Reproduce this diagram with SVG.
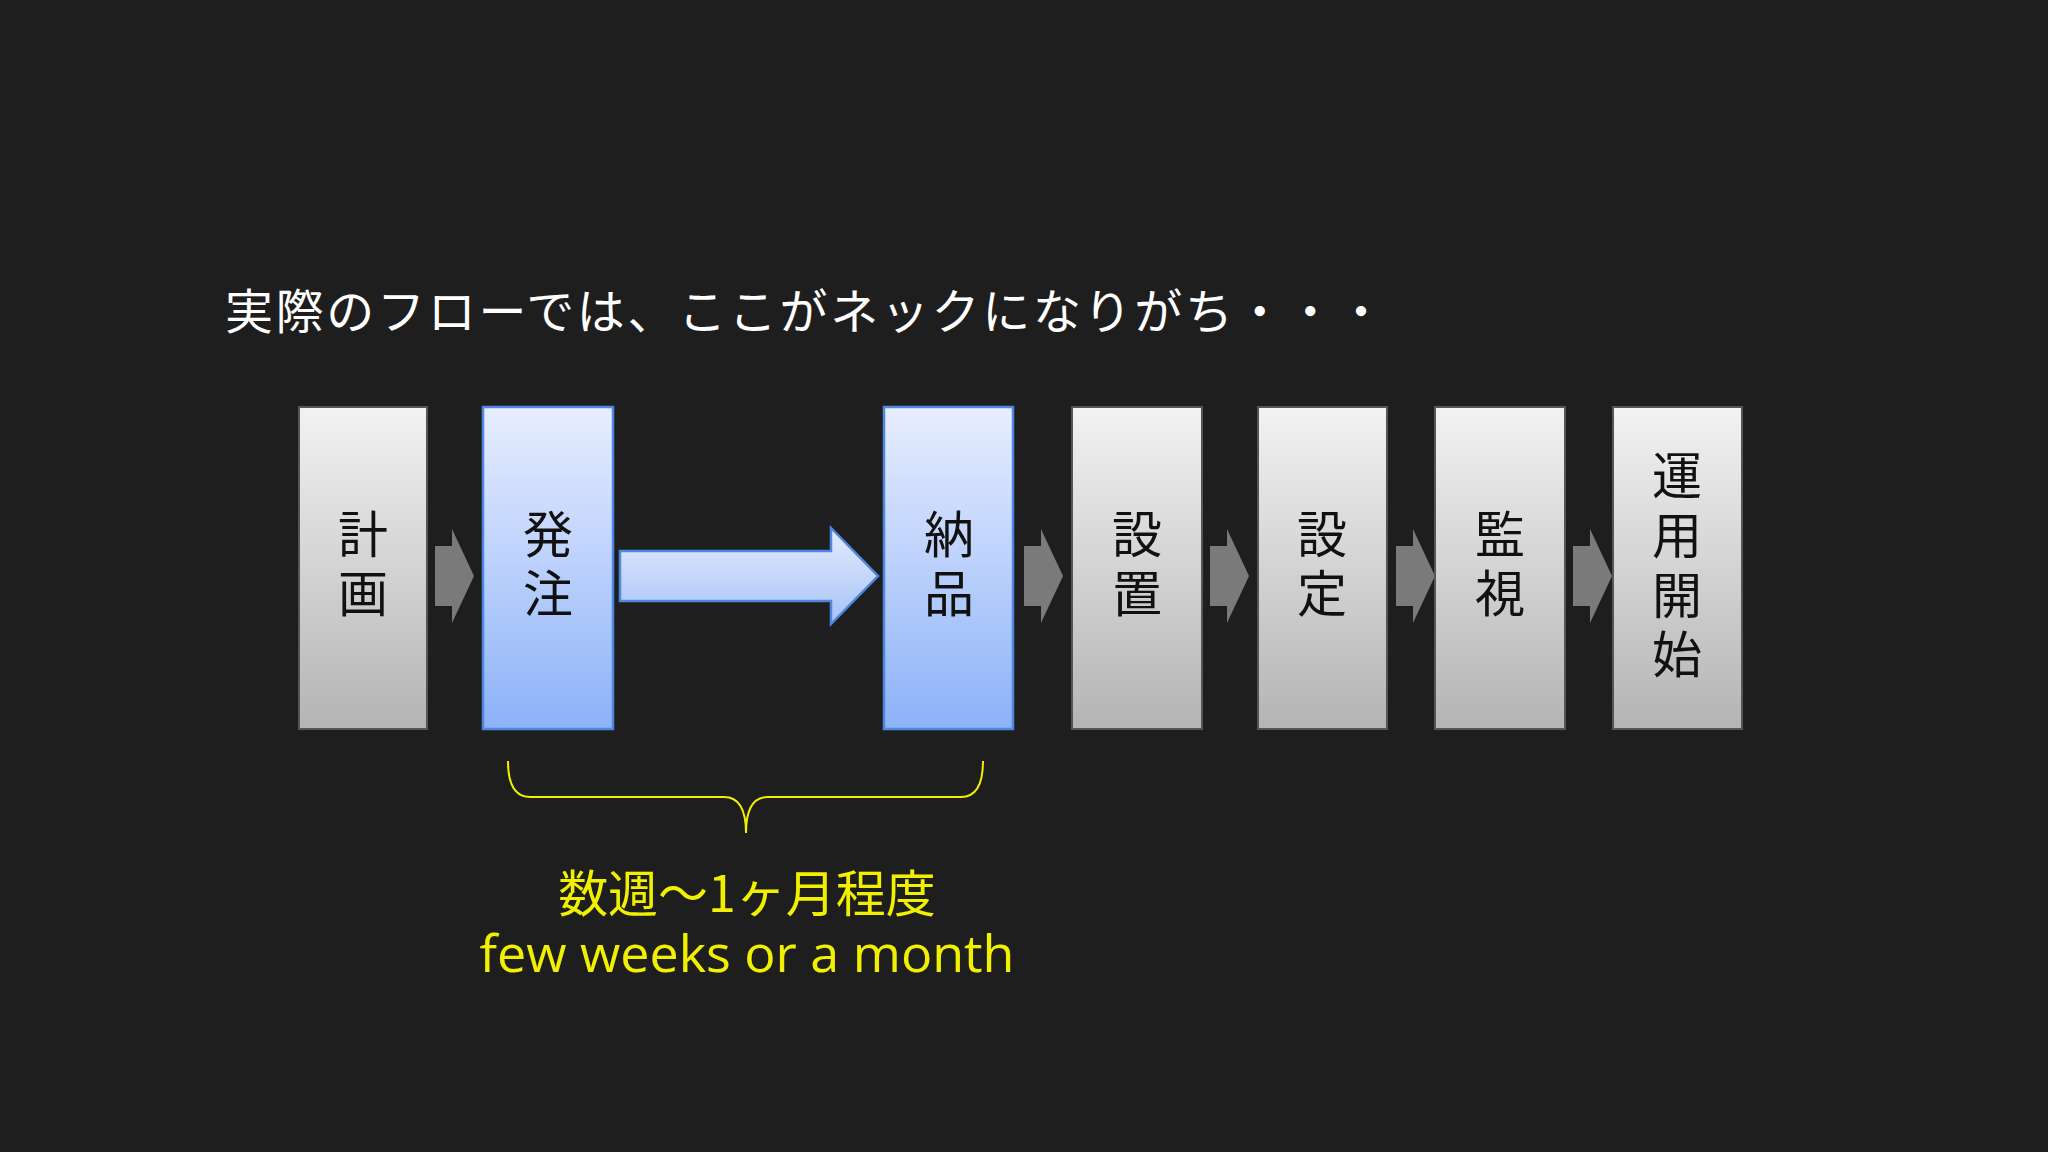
<svg xmlns="http://www.w3.org/2000/svg" width="2048" height="1152" viewBox="0 0 2048 1152">
<defs>
<linearGradient id="g" x1="0" y1="0" x2="0" y2="1"><stop offset="0" stop-color="#f2f2f2"/><stop offset="1" stop-color="#b4b4b4"/></linearGradient>
<linearGradient id="b" x1="0" y1="0" x2="0" y2="1"><stop offset="0" stop-color="#e8eeff"/><stop offset="1" stop-color="#8cb2f8"/></linearGradient>
<linearGradient id="ba" x1="0" y1="0" x2="0" y2="1"><stop offset="0" stop-color="#e4ecff"/><stop offset="1" stop-color="#a6c2f6"/></linearGradient>
<style>
.gb{fill:url(#g);stroke:#555;stroke-width:2}
.bb{fill:url(#b);stroke:#4f86e0;stroke-width:2.5}
.lbl{font-family:"Noto Sans CJK JP",sans-serif;font-size:50px;fill:#111;text-anchor:middle}
.sa{fill:#7a7a7a}
.y{fill:#f0f000;text-anchor:middle}
</style>
</defs>
<rect width="2048" height="1152" fill="#1e1e1f"/>
<text x="225" y="329" font-family="Noto Sans CJK JP,sans-serif" font-size="48" fill="#fff" textLength="1160">実際のフローでは、ここがネックになりがち・・・</text>
<g id="connectors">
<path class="sa" d="M435,546 H452 V529 L474,576 L452,623 V606 H435 Z"/>
<path class="sa" d="M1024,546 H1041 V529 L1063,576 L1041,623 V606 H1024 Z"/>
<path class="sa" d="M1210,546 H1227 V529 L1249,576 L1227,623 V606 H1210 Z"/>
<path class="sa" d="M1396,546 H1413 V529 L1435,576 L1413,623 V606 H1396 Z"/>
<path class="sa" d="M1573,546 H1590 V529 L1612,576 L1590,623 V606 H1573 Z"/>
<path d="M620,551 H831 V528 L878,576 L831,624 V601 H620 Z" fill="url(#ba)" stroke="#4f86e0" stroke-width="2.5"/>
<path d="M508,761 Q508,797 530,797 H724 Q746,797 746,833 Q746,797 768,797 H961 Q983,797 983,761" fill="none" stroke="#f0f000" stroke-width="2"/>
</g>
<g id="n1"><rect class="gb" x="299" y="407" width="128" height="322"/><text class="lbl" x="363" y="553">計</text><text class="lbl" x="363" y="612">画</text></g>
<g id="n2"><rect class="bb" x="483" y="407" width="130" height="322"/><text class="lbl" x="548" y="553">発</text><text class="lbl" x="548" y="612">注</text></g>
<g id="n3"><rect class="bb" x="884" y="407" width="129" height="322"/><text class="lbl" x="949" y="553">納</text><text class="lbl" x="949" y="612">品</text></g>
<g id="n4"><rect class="gb" x="1072" y="407" width="130" height="322"/><text class="lbl" x="1137" y="553">設</text><text class="lbl" x="1137" y="612">置</text></g>
<g id="n5"><rect class="gb" x="1258" y="407" width="129" height="322"/><text class="lbl" x="1322" y="553">設</text><text class="lbl" x="1322" y="612">定</text></g>
<g id="n6"><rect class="gb" x="1435" y="407" width="130" height="322"/><text class="lbl" x="1500" y="553">監</text><text class="lbl" x="1500" y="612">視</text></g>
<g id="n7"><rect class="gb" x="1613" y="407" width="129" height="322"/><text class="lbl" x="1677" y="494">運</text><text class="lbl" x="1677" y="554">用</text><text class="lbl" x="1677" y="614">開</text><text class="lbl" x="1677" y="673">始</text></g>
<g id="note">
<text class="y" x="747" y="912" font-family="Noto Sans CJK JP,sans-serif" font-size="50">数週〜1ヶ月程度</text>
<text class="y" x="747" y="972" font-family="Open Sans,sans-serif" font-size="52">few weeks or a month</text>
</g>
</svg>
